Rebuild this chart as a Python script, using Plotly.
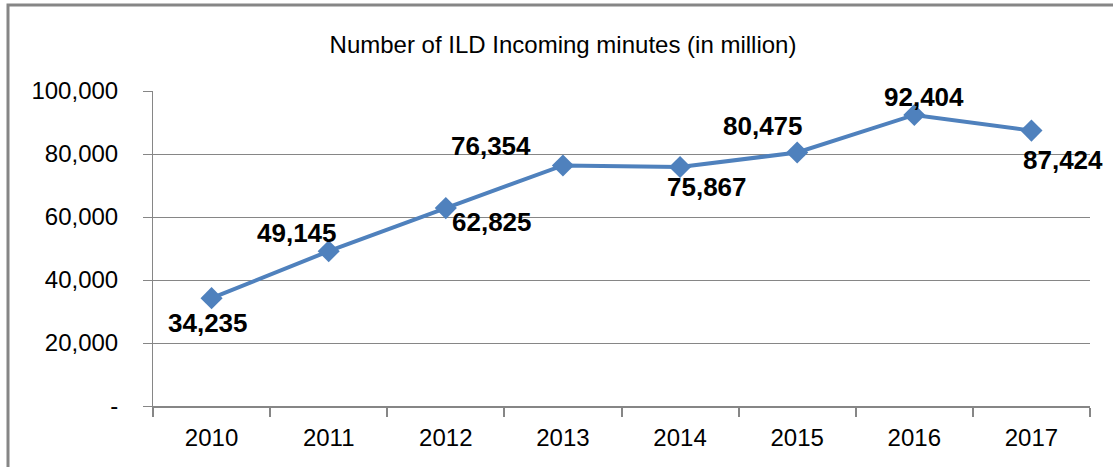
import plotly.graph_objects as go

years = ["2010", "2011", "2012", "2013", "2014", "2015", "2016", "2017"]
minutes = [34235, 49145, 62825, 76354, 75867, 80475, 92404, 87424]
label_text = ["34,235", "49,145", "62,825", "76,354", "75,867", "80,475", "92,404", "87,424"]
y_ticks = [0, 20000, 40000, 60000, 80000, 100000]
y_tick_text = ["-", "20,000", "40,000", "60,000", "80,000", "100,000"]

# label offsets in pixels (style only)
label_dx = [-4, -32, 46, -72, 27, -34, 10, 32]
label_dy = [-25, 18, -14, 19, -20, 27, 18, -29]

W, H = 1113, 467
L, R, T, B = 153, 23, 91, 61
pw, ph = W - L - R, H - T - B

FONT = "Liberation Sans"
GRAY = "#868686"
BLUE = "#4F81BD"

fig = go.Figure()
fig.add_trace(go.Scatter(
    x=years, y=minutes, mode="lines+markers",
    line=dict(color=BLUE, width=4),
    marker=dict(symbol="diamond", size=17, color=BLUE),
    showlegend=False, hoverinfo="skip",
))

for i, (v, t, dx, dy) in enumerate(zip(minutes, label_text, label_dx, label_dy)):
    fig.add_annotation(x=i, y=v, text="<b>%s</b>" % t, showarrow=False,
                       xshift=dx, yshift=dy,
                       font=dict(family=FONT, size=26, color="#000000"))

# outer chart frame
fig.add_shape(type="rect", xref="paper", yref="paper",
              x0=(8 - L) / pw, x1=(W + 20 - L) / pw,
              y0=(H - B - (H + 20)) / ph, y1=(H - B - 5) / ph,
              line=dict(color=GRAY, width=3), layer="below")

fig.update_layout(
    width=W, height=H,
    margin=dict(l=L, r=R, t=T, b=B, autoexpand=False),
    paper_bgcolor="white", plot_bgcolor="white",
    title=dict(text="Number of ILD Incoming minutes (in million)",
               x=563 / W, xanchor="center", xref="container",
               y=1 - 45 / H, yanchor="middle", yref="container",
               font=dict(family=FONT, size=24, color="#000000")),
    xaxis=dict(
        type="category", range=[-0.5, len(years) - 0.5],
        tickson="boundaries", ticks="outside", ticklen=9,
        tickcolor=GRAY, tickwidth=2, showline=True, linecolor=GRAY, linewidth=2,
        showgrid=False, zeroline=False, tickangle=0,
        tickfont=dict(family=FONT, size=24, color="#000000"),
        ticklabelstandoff=9,
    ),
    yaxis=dict(
        range=[0, 100000], tickvals=y_ticks, ticktext=y_tick_text,
        ticks="outside", ticklen=9, tickcolor=GRAY, tickwidth=1,
        showline=True, linecolor=GRAY, linewidth=1,
        showgrid=True, gridcolor=GRAY, gridwidth=1, zeroline=False,
        tickfont=dict(family=FONT, size=24, color="#000000"),
        ticklabelstandoff=20,
    ),
)

fig.write_html("out.html")
